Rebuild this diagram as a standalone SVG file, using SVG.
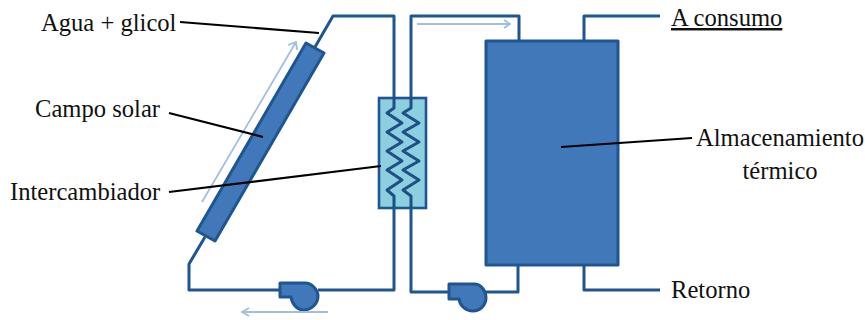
<svg xmlns="http://www.w3.org/2000/svg" width="865" height="320" viewBox="0 0 865 320">
<defs>
<style>
.pipe{fill:none;stroke:#1f5590;stroke-width:3;stroke-linejoin:round}
.shape{fill:#4078ba;stroke:#1f5590;stroke-width:3;stroke-linejoin:round}
.coil{fill:none;stroke:#1f4f85;stroke-width:3;stroke-linejoin:round}
.lead{fill:none;stroke:#000;stroke-width:2.2}
.flow{fill:none;stroke:#a3bfe0;stroke-width:1.8}
text{font-family:"Liberation Serif","Times New Roman",serif;font-size:24.6px;fill:#111}
</style>
</defs>
<rect width="865" height="320" fill="#fff"/>
<g id="colector"><path class="shape" d="M306 43L324 53L215 241L197 231Z"/></g>
<g id="intercambiador">
<rect x="379" y="98" width="47" height="110" fill="#8ccfdf" stroke="#1f5590" stroke-width="2.6"/>
<path class="coil" d="M394 98V108L387 113L402 123L387 132L402 142L387 151L402 161L387 170L402 180L387 190L394 196V208"/>
<path class="coil" d="M411 98V108L403 113L419 123L403 132L419 142L403 151L419 161L403 170L419 180L403 190L411 196V208"/>
</g>
<g id="bomba1"><path class="shape" d="M280 283H305C313 283 318 291 318 296C318 304 311 310 304 310C297 310 292 304 291 297H280Z"/></g>
<g id="bomba2"><path class="shape" d="M449 284H474C482 284 486 292 486 298C486 305 480 311 473 311C466 311 460 306 459 299H449Z"/></g>
<g id="almacenamiento"><rect class="shape" x="486" y="41" width="132" height="224"/></g>
<g id="connectors">
<path class="pipe" d="M205 237L189 264V290H280"/>
<path class="pipe" d="M315 47L333 16H394V98"/>
<path class="pipe" d="M318 290H394V208"/>
<path class="pipe" d="M411 98V16H519V41"/>
<path class="pipe" d="M411 208V292H449"/>
<path class="pipe" d="M486 292H518V265"/>
<path class="pipe" d="M584 41V16H660"/>
<path class="pipe" d="M584 265V290H660"/>
<path class="flow" d="M202 202L296 42M288 45L296 42L297 50"/>
<path class="flow" d="M328 312H242M249 308L242 312L249 316"/>
<path class="flow" d="M417 24H510M504 20L510 24L504 28"/>
<path class="lead" d="M180 22L319 33"/>
<path class="lead" d="M169 113L263 137"/>
<path class="lead" d="M169 192L381 166"/>
<path class="lead" d="M692 138L561 147"/>
</g>
<g id="labels">
<text x="41" y="31">Agua + glicol</text>
<text x="35" y="116.5">Campo solar</text>
<text x="10" y="199.5">Intercambiador</text>
<text x="671" y="26" text-decoration="underline">A consumo</text>
<text x="696" y="145.5">Almacenamiento</text>
<text x="742.5" y="179">térmico</text>
<text x="671" y="298">Retorno</text>
</g>
</svg>
